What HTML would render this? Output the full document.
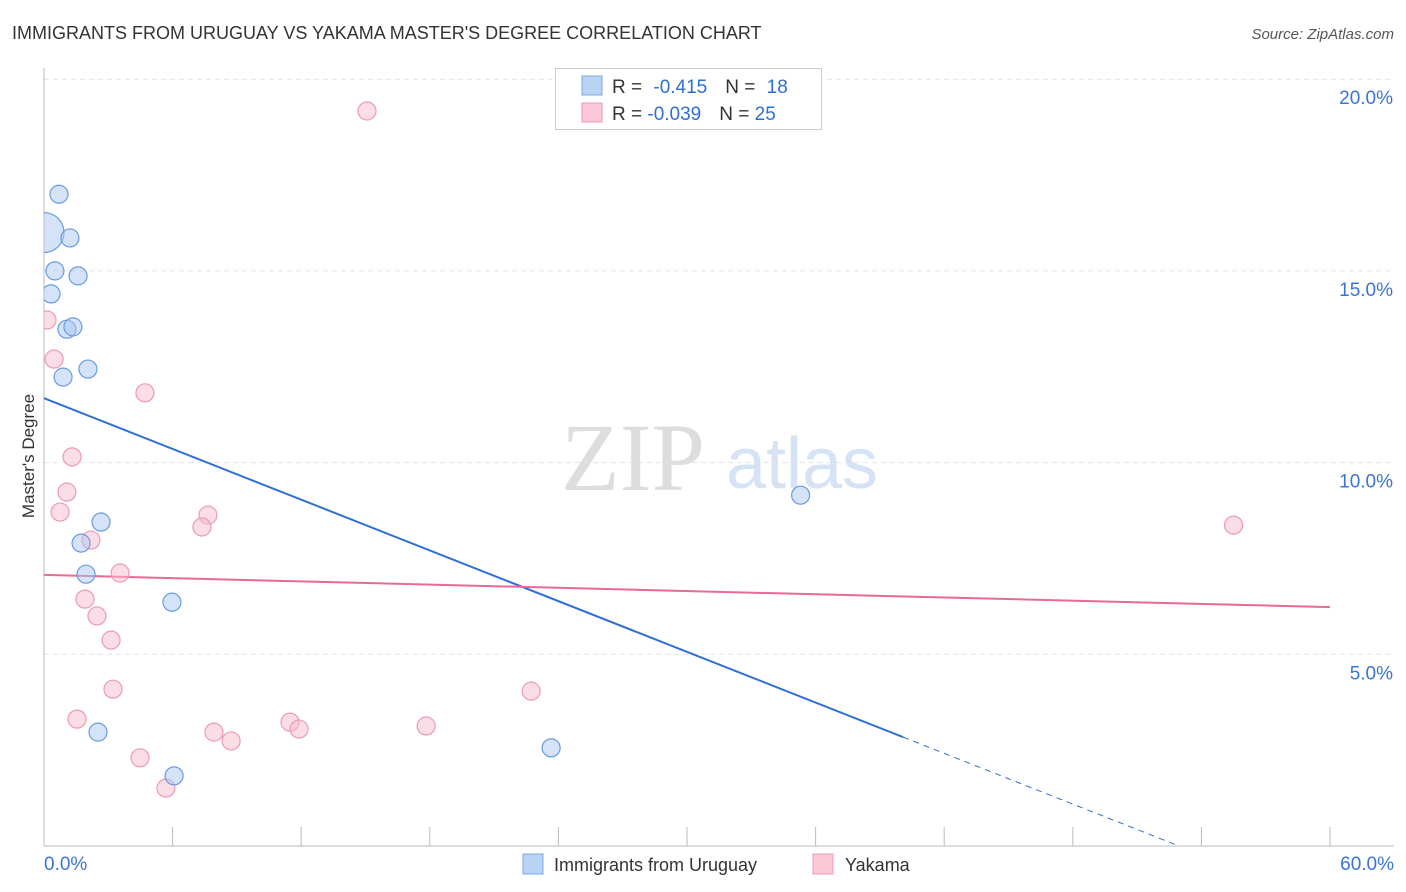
<!DOCTYPE html>
<html><head><meta charset="utf-8"><style>
body{margin:0;background:#fff;font-family:"Liberation Sans",sans-serif;}
svg{display:block}
</style></head><body>
<svg id="chart" width="1406" height="892" xmlns="http://www.w3.org/2000/svg">
<defs><clipPath id="plotclip"><rect x="44" y="60" width="1360" height="790"/></clipPath></defs>
<text x="12" y="39" font-size="18" fill="#333">IMMIGRANTS FROM URUGUAY VS YAKAMA MASTER'S DEGREE CORRELATION CHART</text>
<text x="1394" y="39" font-size="15" fill="#555" font-style="italic" text-anchor="end">Source: ZipAtlas.com</text>
<g>
<text x="633" y="490" font-size="96" fill="#ddd" font-family="Liberation Serif,serif" text-anchor="middle">ZIP</text>
<text x="802" y="488" font-size="72" fill="#d5e3f4" text-anchor="middle">atlas</text>
</g>
<g id="grid"></g>
<g id="axes"></g>
<g id="lines"></g>
<g id="points" clip-path="url(#plotclip)"></g>
<text transform="translate(34,456) rotate(-90)" font-size="17" fill="#333" text-anchor="middle">Master's Degree</text>
<g>
<rect x="555.5" y="68.5" width="266" height="61" fill="#fff" stroke="#ccc"/>
<rect x="582" y="76" width="20" height="19" fill="#b9d3f5" stroke="#7aa8e6"/>
<rect x="582" y="103" width="20" height="19" fill="#fac8d6" stroke="#ef9ab4"/>
<text x="612" y="93" font-size="19" fill="#333">R = <tspan fill="#2f6fd0" dx="6">-0.415</tspan><tspan fill="#333" dx="18">N = </tspan><tspan fill="#2f6fd0" dx="6">18</tspan></text>
<text x="612" y="120" font-size="19" fill="#333">R = <tspan fill="#2f6fd0">-0.039</tspan><tspan fill="#333" dx="18">N = </tspan><tspan fill="#2f6fd0">25</tspan></text>
</g>
<g>
<rect x="523" y="854" width="20" height="20" fill="#b9d3f5" stroke="#7aa8e6"/>
<text x="554" y="871" font-size="18" fill="#333">Immigrants from Uruguay</text>
<rect x="813" y="854" width="20" height="20" fill="#fac8d6" stroke="#ef9ab4"/>
<text x="845" y="871" font-size="18" fill="#333">Yakama</text>
</g>
</svg>
<script>
const blueX=[0.70,0,1.21,0.51,1.59,0.33,1.07,1.35,0.89,2.05,2.66,1.73,1.96,5.97,35.3,2.52,23.66,6.07];
const blueY=[17.0,16.0,15.86,15.0,14.87,14.4,13.48,13.54,12.23,12.44,8.45,7.9,7.09,6.36,9.15,2.97,2.56,1.83];
const blueR=[9,20,9,9,9,9,9,9,9,9,9,9,9,9,9,9,9,9];
const pinkX=[15.07,0.14,0.47,4.71,1.31,1.07,0.75,7.65,7.37,2.19,3.55,1.91,2.47,3.13,3.22,1.54,7.93,8.73,11.48,11.9,17.83,22.73,4.48,5.69,55.5];
const pinkY=[19.17,13.72,12.7,11.82,10.15,9.23,8.71,8.63,8.32,7.98,7.12,6.44,6.0,5.37,4.09,3.31,2.97,2.74,3.23,3.05,3.13,4.04,2.3,1.51,8.37];
const yTicks=[5,10,15,20];
const yTickLabels=["5.0%","10.0%","15.0%","20.0%"];
const xTickValues=[0,6,12,18,24,30,36,42,48,54,60];
const blueTrend=[11.68,2.84,40.08];
const pinkTrend=[7.07,6.23];
const NS="http://www.w3.org/2000/svg";
const sx=v=>44+v*(1286/60);
const sy=v=>846-v*38.34;
function mk(tag,attrs,parent){const e=document.createElementNS(NS,tag);for(const k in attrs)e.setAttribute(k,attrs[k]);parent.appendChild(e);return e;}
const grid=document.getElementById('grid'),axes=document.getElementById('axes'),lines=document.getElementById('lines'),pts=document.getElementById('points');
yTicks.forEach((t,i)=>{
 const l=mk('line',{x1:44,x2:1394,y1:sy(t),y2:sy(t),stroke:'#e2e2e2','stroke-dasharray':'5,4'},grid);
 
 
 const tx=mk('text',{x:1393,y:sy(t)+25,'font-size':19,fill:'#3a74d4','text-anchor':'end'},axes);
 tx.textContent=yTickLabels[i];
 
 
});
const ax=mk('line',{x1:44,x2:1394,y1:846,y2:846,stroke:'#bbb'},axes);


const ay=mk('line',{x1:44,x2:44,y1:68,y2:846,stroke:'#bbb'},axes);


xTickValues.forEach(v=>{
 const t=mk('line',{x1:sx(v),x2:sx(v),y1:827,y2:846,stroke:'#bbb'},axes);
 
 
});
const xl0=mk('text',{x:44,y:870,'font-size':19,fill:'#3a74d4'},axes);xl0.textContent='0.0%';


const xl1=mk('text',{x:1394,y:870,'font-size':19,fill:'#3a74d4','text-anchor':'end'},axes);xl1.textContent='60.0%';


const slope=(blueTrend[1]-blueTrend[0])/blueTrend[2];
const bl=mk('line',{x1:sx(0),y1:sy(blueTrend[0]),x2:sx(blueTrend[2]),y2:sy(blueTrend[1]),stroke:'#2f6fd6','stroke-width':2},lines);


const xEnd=-blueTrend[0]/slope;
const bd=mk('line',{x1:sx(blueTrend[2]),y1:sy(blueTrend[1]),x2:sx(xEnd),y2:sy(0),stroke:'#2f6fd6','stroke-width':1,'stroke-dasharray':'6,5'},lines);


const pl=mk('line',{x1:sx(0),y1:sy(pinkTrend[0]),x2:sx(60),y2:sy(pinkTrend[1]),stroke:'#e8699a','stroke-width':2},lines);


pinkX.forEach((x,i)=>{
 const c=mk('circle',{cx:sx(x),cy:sy(pinkY[i]),r:9,fill:'rgba(248,187,206,0.5)',stroke:'#ec9ab5','stroke-width':1.2},pts);
 
 
});
blueX.forEach((x,i)=>{
 const c=mk('circle',{cx:sx(x),cy:sy(blueY[i]),r:blueR[i],fill:'rgba(170,200,242,0.5)',stroke:'#6a9be0','stroke-width':1.2},pts);
 
 
});
</script>
</body></html>
